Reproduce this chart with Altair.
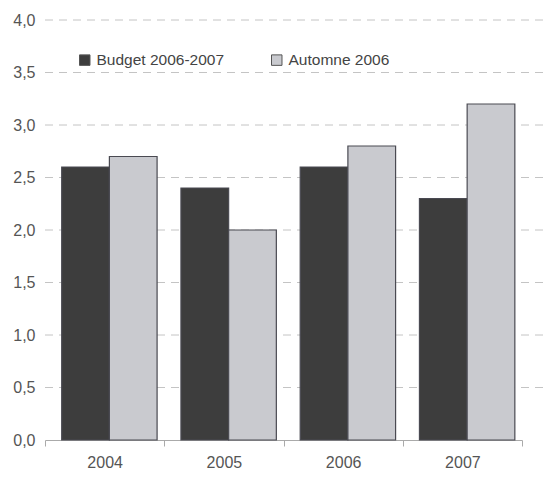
import altair as alt
import pandas as pd

years = ["2004", "2005", "2006", "2007"]
series = ["Budget 2006-2007", "Automne 2006"]
budget = [2.6, 2.4, 2.6, 2.3]
automne = [2.7, 2.0, 2.8, 3.2]
grid_values = [0.5, 1, 1.5, 2, 2.5, 3, 3.5, 4]

rows = []
for i, y in enumerate(years):
    rows.append({"annee": y, "serie": series[0], "valeur": budget[i]})
    rows.append({"annee": y, "serie": series[1], "valeur": automne[i]})
df = pd.DataFrame(rows)
gdf = pd.DataFrame({"v": grid_values})

font = "Liberation Sans"
yscale = alt.Scale(domain=[0, 4], nice=False)

grid = alt.Chart(gdf).mark_rule(color="#c4c4c4", strokeDash=[8, 6], strokeWidth=1).encode(
    y=alt.Y("v:Q", scale=yscale, title=None),
    x=alt.value(0),
    x2=alt.value(499),
)

bars = alt.Chart(df).mark_bar(stroke="#4a4a52", strokeWidth=1.2).encode(
    x=alt.X("annee:N", sort=years, title=None,
            scale=alt.Scale(paddingInner=0, paddingOuter=0),
            axis=alt.Axis(labelAngle=0, labelFontSize=16, labelColor="#555555", labelFont=font,
                          domainColor="#aaaaaa", tickColor="#aaaaaa", tickSize=6, tickBand="extent",
                          labelPadding=8, grid=False)),
    xOffset=alt.XOffset("serie:N", sort=series,
                        scale=alt.Scale(paddingInner=0, paddingOuter=0.25, align=0.7)),
    y=alt.Y("valeur:Q", title=None, scale=yscale,
            axis=alt.Axis(values=[0, 0.5, 1, 1.5, 2, 2.5, 3, 3.5, 4],
                          labelExpr="replace(format(datum.value, '.1f'), '.', ',')",
                          labelFontSize=16, labelColor="#555555", labelFont=font,
                          domain=False, ticks=False, labelPadding=10, grid=False)),
    color=alt.Color("serie:N", sort=series,
                    scale=alt.Scale(domain=series, range=["#3d3d3d", "#c9cacf"]),
                    legend=alt.Legend(title=None, orient="none", legendX=32, legendY=32,
                                      direction="horizontal", symbolType="square",
                                      symbolSize=110, symbolStrokeColor="#555555",
                                      symbolStrokeWidth=1,
                                      labelFontSize=15.5, labelColor="#444444", labelFont=font,
                                      columnPadding=44, symbolOffset=0, labelOffset=4)),
)

chart = alt.layer(grid, bars).properties(
    width=477, height=420,
    autosize=alt.AutoSizeParams(type="none"),
    padding={"left": 37, "top": 12, "right": 22, "bottom": 30},
).configure_view(stroke=None)

chart.save("out.html", embed_options={"renderer": "svg", "actions": False})
